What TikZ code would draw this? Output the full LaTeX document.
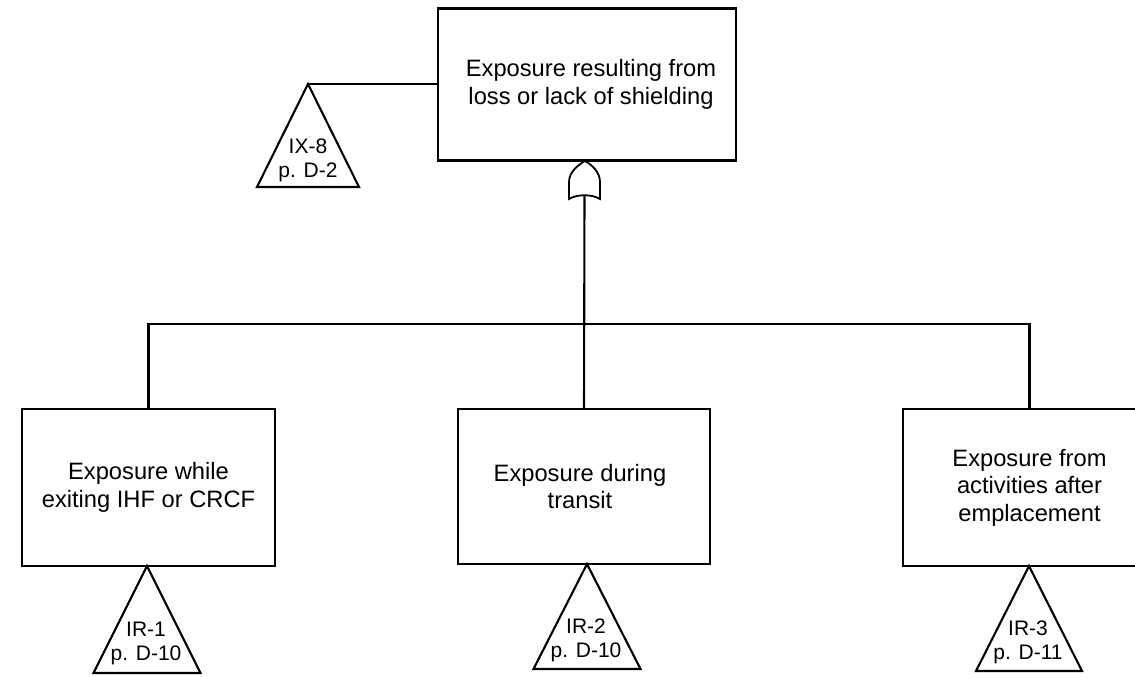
\documentclass[tikz,border=0pt]{standalone}
\usepackage{fontspec}
\setmainfont{Liberation Sans}
\begin{document}
\begin{tikzpicture}[x=1pt,y=-1pt,
  line width=2.1pt,
  event/.style={draw, rectangle, inner sep=0pt, align=center,
    font=\fontsize{23.7}{27.5}\selectfont},
  xfertext/.style={inner sep=0pt, align=center,
    font=\fontsize{21}{24}\selectfont},
  xfer/.style={draw, line join=miter}]
\useasboundingbox (0,0) rectangle (1135,677);
\clip (0,0) rectangle (1135,677);

% events
\node[event, minimum width=298pt, minimum height=152pt] (top) at (587,84.5)
  {\hspace*{8pt}Exposure resulting from\\\hspace*{8pt}loss or lack of shielding};
\node[event, minimum width=253pt, minimum height=157pt] (left) at (148.5,487.5)
  {Exposure while\\exiting IHF or CRCF};
\node[event, minimum width=252pt, minimum height=155pt] (mid) at (584,486.5)
  {\hspace*{-8pt}Exposure during\\\hspace*{-8pt}transit};
\node[event, minimum width=253pt, minimum height=157pt] (right) at (1029.5,487.5)
  {Exposure from\\activities after\\emplacement};

% OR gate under the top event
\coordinate (gtop) at (585,161);
\coordinate (gbot) at (584.5,195);
\draw[line width=1.8pt] (569,199) -- (569,182)
  .. controls (569,172) and (578,165) .. (gtop)
  .. controls (592,165) and (600,172) .. (600,182) -- (600,199)
  .. controls (592,194) and (577,194) .. (569,199) -- cycle;

% connectors
\draw (gbot) -- (mid.north);
\draw (left.north) -- ++(0,-84) -| (right.north);

% transfer triangles
\coordinate (t0) at (308,84);
\draw[xfer] (t0) -- ++(51,103) -- ++(-102,0) -- cycle;
\node[xfertext] (t0txt) at (308,160) {IX-8\\p. D-2};
\draw (t0) -- (top.west |- t0);

\coordinate (t1) at (147,566);
\draw[xfer] (t1) -- ++(53.5,107) -- ++(-107,0) -- cycle;
\node[xfertext] (t1txt) at (146,643) {IR-1\\p. D-10};

\coordinate (t2) at (587,564);
\draw[xfer] (t2) -- ++(53.5,105) -- ++(-107,0) -- cycle;
\node[xfertext] (t2txt) at (586,640) {IR-2\\p. D-10};

\coordinate (t3) at (1029,566);
\draw[xfer] (t3) -- ++(53,105) -- ++(-106,0) -- cycle;
\node[xfertext] (t3txt) at (1028,642) {IR-3\\p. D-11};
\end{tikzpicture}
\end{document}
